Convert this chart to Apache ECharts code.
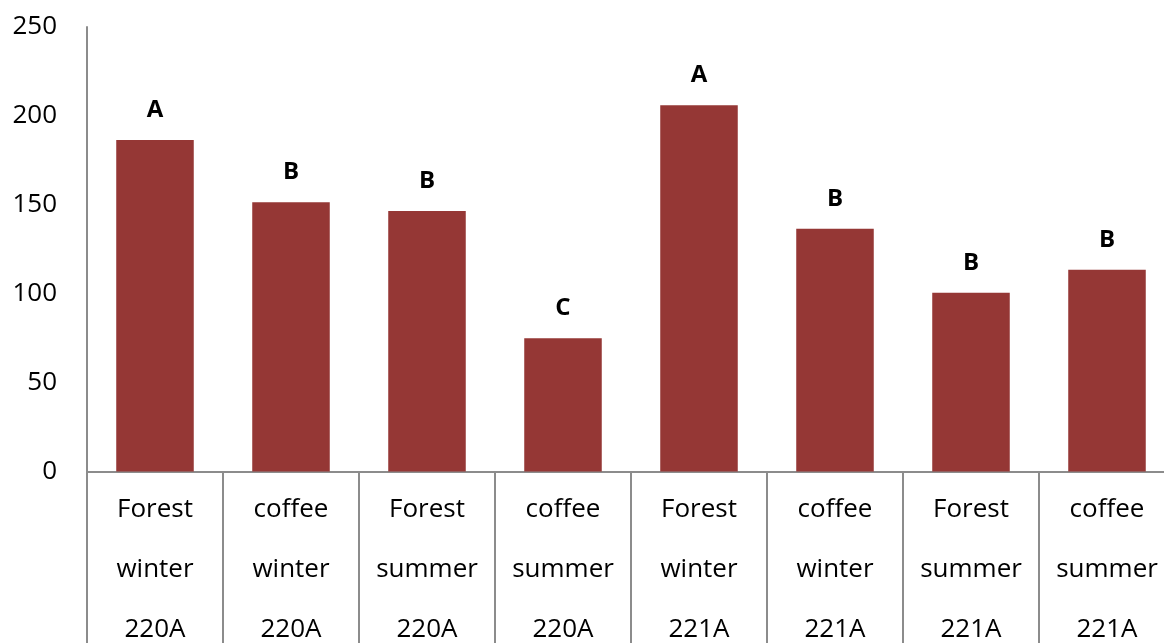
<!DOCTYPE html>
<html>
<head>
<meta charset="utf-8">
<script src="https://cdn.jsdelivr.net/npm/echarts@6/dist/echarts.min.js"></script>
<style>
    html, body { margin: 0; padding: 0; background: #fff; }
    #chart { width: 1164px; height: 643px; }
</style>
</head>
<body>
<div id="chart"></div>
<script>
    // categories and values
    const categories = [
        'Forest\nwinter\n220A', 'coffee\nwinter\n220A', 'Forest\nsummer\n220A', 'coffee\nsummer\n220A',
        'Forest\nwinter\n221A', 'coffee\nwinter\n221A', 'Forest\nsummer\n221A', 'coffee\nsummer\n221A'
    ];
    const values = [186.5, 151.5, 146.5, 75, 206, 136.5, 100.5, 113.5];
    const letters = ['A', 'B', 'B', 'C', 'A', 'B', 'B', 'B'];
    const yTicks = [0, 50, 100, 150, 200, 250];

    const myChart = echarts.init(document.getElementById('chart'));
    const gray = '#8c8c8c';
    const font = '"Open Sans", sans-serif';

    const option = {
        animation: false,
        grid: {
            left: 87,
            top: 27,
            width: 1088,
            height: 444.5,
            outerBoundsMode: 'none',
            containLabel: false
        },
        xAxis: {
            type: 'category',
            data: categories,
            axisLine: {lineStyle: {color: gray, width: 2}},
            axisTick: {
                show: true,
                interval: 0,
                length: 180,
                lineStyle: {color: gray, width: 2}
            },
            axisLabel: {
                interval: 0,
                margin: 8,
                color: '#000',
                fontFamily: font,
                fontSize: 26,
                lineHeight: 60
            }
        },
        yAxis: {
            type: 'value',
            min: yTicks[0],
            max: yTicks[yTicks.length - 1],
            interval: 50,
            splitLine: {show: false},
            axisLine: {show: true, lineStyle: {color: gray, width: 2}},
            axisTick: {show: false},
            axisLabel: {
                margin: 30,
                color: '#000',
                fontFamily: font,
                fontSize: 26
            }
        },
        series: [
            {
                type: 'bar',
                data: values,
                barWidth: '57%',
                itemStyle: {color: '#953735'},
                label: {
                    show: true,
                    position: 'top',
                    distance: 18,
                    color: '#000',
                    fontFamily: font,
                    fontWeight: 'bold',
                    fontSize: 24,
                    formatter: function (p) {
                        return letters[p.dataIndex];
                    }
                }
            }
        ]
    };
    myChart.setOption(option);
</script>
</body>
</html>
